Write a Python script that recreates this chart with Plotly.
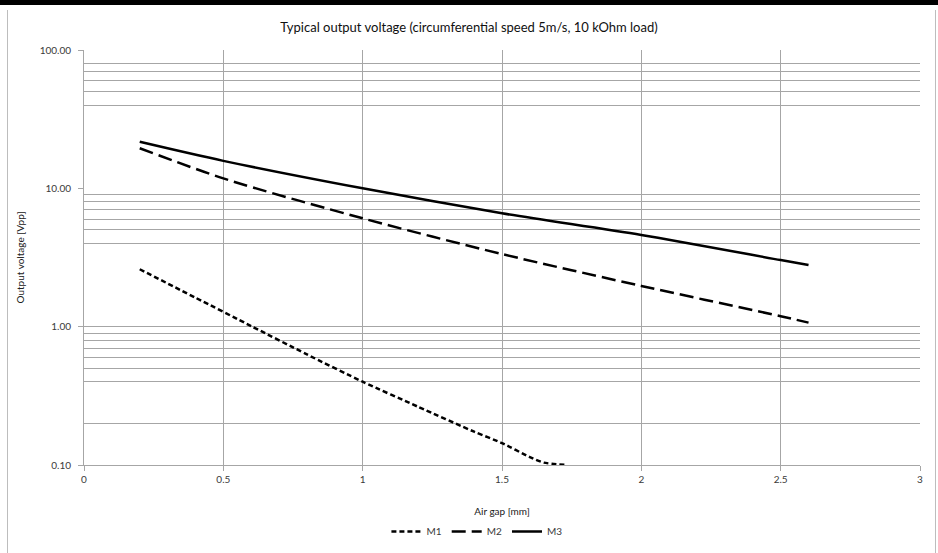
import plotly.graph_objects as go

# ---- data ----
m1_x = [0.2, 0.4, 0.6, 0.8, 1.0, 1.2, 1.4, 1.5, 1.6, 1.65, 1.73]
m1_y = [2.6, 1.62, 1.01, 0.63, 0.40, 0.263, 0.174, 0.144, 0.114, 0.104, 0.100]

m2_x = [0.2, 0.5, 1.0, 1.5, 2.0, 2.5, 2.6]
m2_y = [19.5, 11.8, 6.07, 3.35, 1.97, 1.19, 1.07]

m3_x = [0.2, 0.5, 1.0, 1.5, 2.0, 2.5, 2.6]
m3_y = [21.7, 15.8, 10.0, 6.6, 4.6, 3.03, 2.79]

y_tickvals = [0.1, 1, 10, 100]
y_ticktext = ["0.10", "1.00", "10.00", "100.00"]
y_gridvals = [0.2, 0.4, 0.5, 0.6, 0.7, 0.8, 0.9, 1,
              4, 5, 6, 7, 8, 9, 40, 50, 60, 70, 80, 100]
x_tickvals = [0, 0.5, 1, 1.5, 2, 2.5, 3]
x_ticktext = ["0", "0.5", "1", "1.5", "2", "2.5", "3"]

FONT = "Lato"
GRID = "#a6a6a6"

fig = go.Figure()
fig.add_trace(go.Scatter(x=m1_x, y=m1_y, mode="lines", name="M1",
                         line=dict(color="black", width=2.5, dash="5px,3px",
                                   shape="spline", smoothing=0.6)))
fig.add_trace(go.Scatter(x=m2_x, y=m2_y, mode="lines", name="M2",
                         line=dict(color="black", width=2.5, dash="14px,6px",
                                   shape="spline", smoothing=0.8)))
fig.add_trace(go.Scatter(x=m3_x, y=m3_y, mode="lines", name="M3",
                         line=dict(color="black", width=2.5,
                                   shape="spline", smoothing=0.8)))

fig.update_layout(
    width=938, height=553,
    paper_bgcolor="white", plot_bgcolor="white",
    margin=dict(l=84, r=18, t=50, b=88, autoexpand=False),
    font=dict(family=FONT, size=10, color="#3a3a3a"),
    title=dict(text="Typical output voltage (circumferential speed 5m/s, 10 kOhm load)",
               x=0.5, xanchor="center", xref="container", y=1 - 27 / 553, yanchor="middle",
               yref="container",
               font=dict(family=FONT, size=13, color="#101010")),
    showlegend=True,
    legend=dict(orientation="h", x=0.47, xanchor="center", y=-0.16, yanchor="middle",
                font=dict(family=FONT, size=10, color="#3a3a3a"),
                bgcolor="rgba(0,0,0,0)"),
    xaxis=dict(range=[0, 3], tickvals=x_tickvals, ticktext=x_ticktext,
               showgrid=True, gridcolor=GRID, gridwidth=1,
               zeroline=False, showline=True, linecolor=GRID, linewidth=1,
               ticks="outside", ticklen=5, tickcolor=GRID,
               mirror=False, automargin=False,
               title=dict(text="Air gap [mm]", standoff=23,
                          font=dict(family=FONT, size=10, color="#202020"))),
    yaxis=dict(type="log", range=[-1, 2], tickvals=y_tickvals, ticktext=y_ticktext,
               showgrid=False, zeroline=False,
               showline=True, linecolor=GRID, linewidth=1,
               ticks="outside", ticklen=5, tickcolor=GRID, automargin=False,
               ticklabelstandoff=5,
               minor=dict(tickmode="array", tickvals=y_gridvals, showgrid=True,
                          gridcolor=GRID, gridwidth=1, ticks=""),
               title=dict(text="Output voltage [Vpp]", standoff=13,
                          font=dict(family=FONT, size=10, color="#202020"))),
)

def px_x(p):
    return (p - 84) / 836

def px_y(p):
    return (465 - p) / 415

# frame of the original screenshot
fig.add_shape(type="rect", xref="paper", yref="paper",
              x0=px_x(-5), x1=px_x(945), y0=px_y(0), y1=px_y(5),
              line=dict(width=0), fillcolor="black")
fig.add_shape(type="rect", xref="paper", yref="paper",
              x0=px_x(7), x1=px_x(8), y0=px_y(10), y1=px_y(560),
              line=dict(width=0), fillcolor="#bdbdbd")
fig.add_shape(type="rect", xref="paper", yref="paper",
              x0=px_x(935), x1=px_x(936), y0=px_y(10), y1=px_y(560),
              line=dict(width=0), fillcolor="#bdbdbd")

fig.write_html("out.html", config={"displayModeBar": False},
               post_script="document.body.style.margin='0';document.body.style.padding='0';")
